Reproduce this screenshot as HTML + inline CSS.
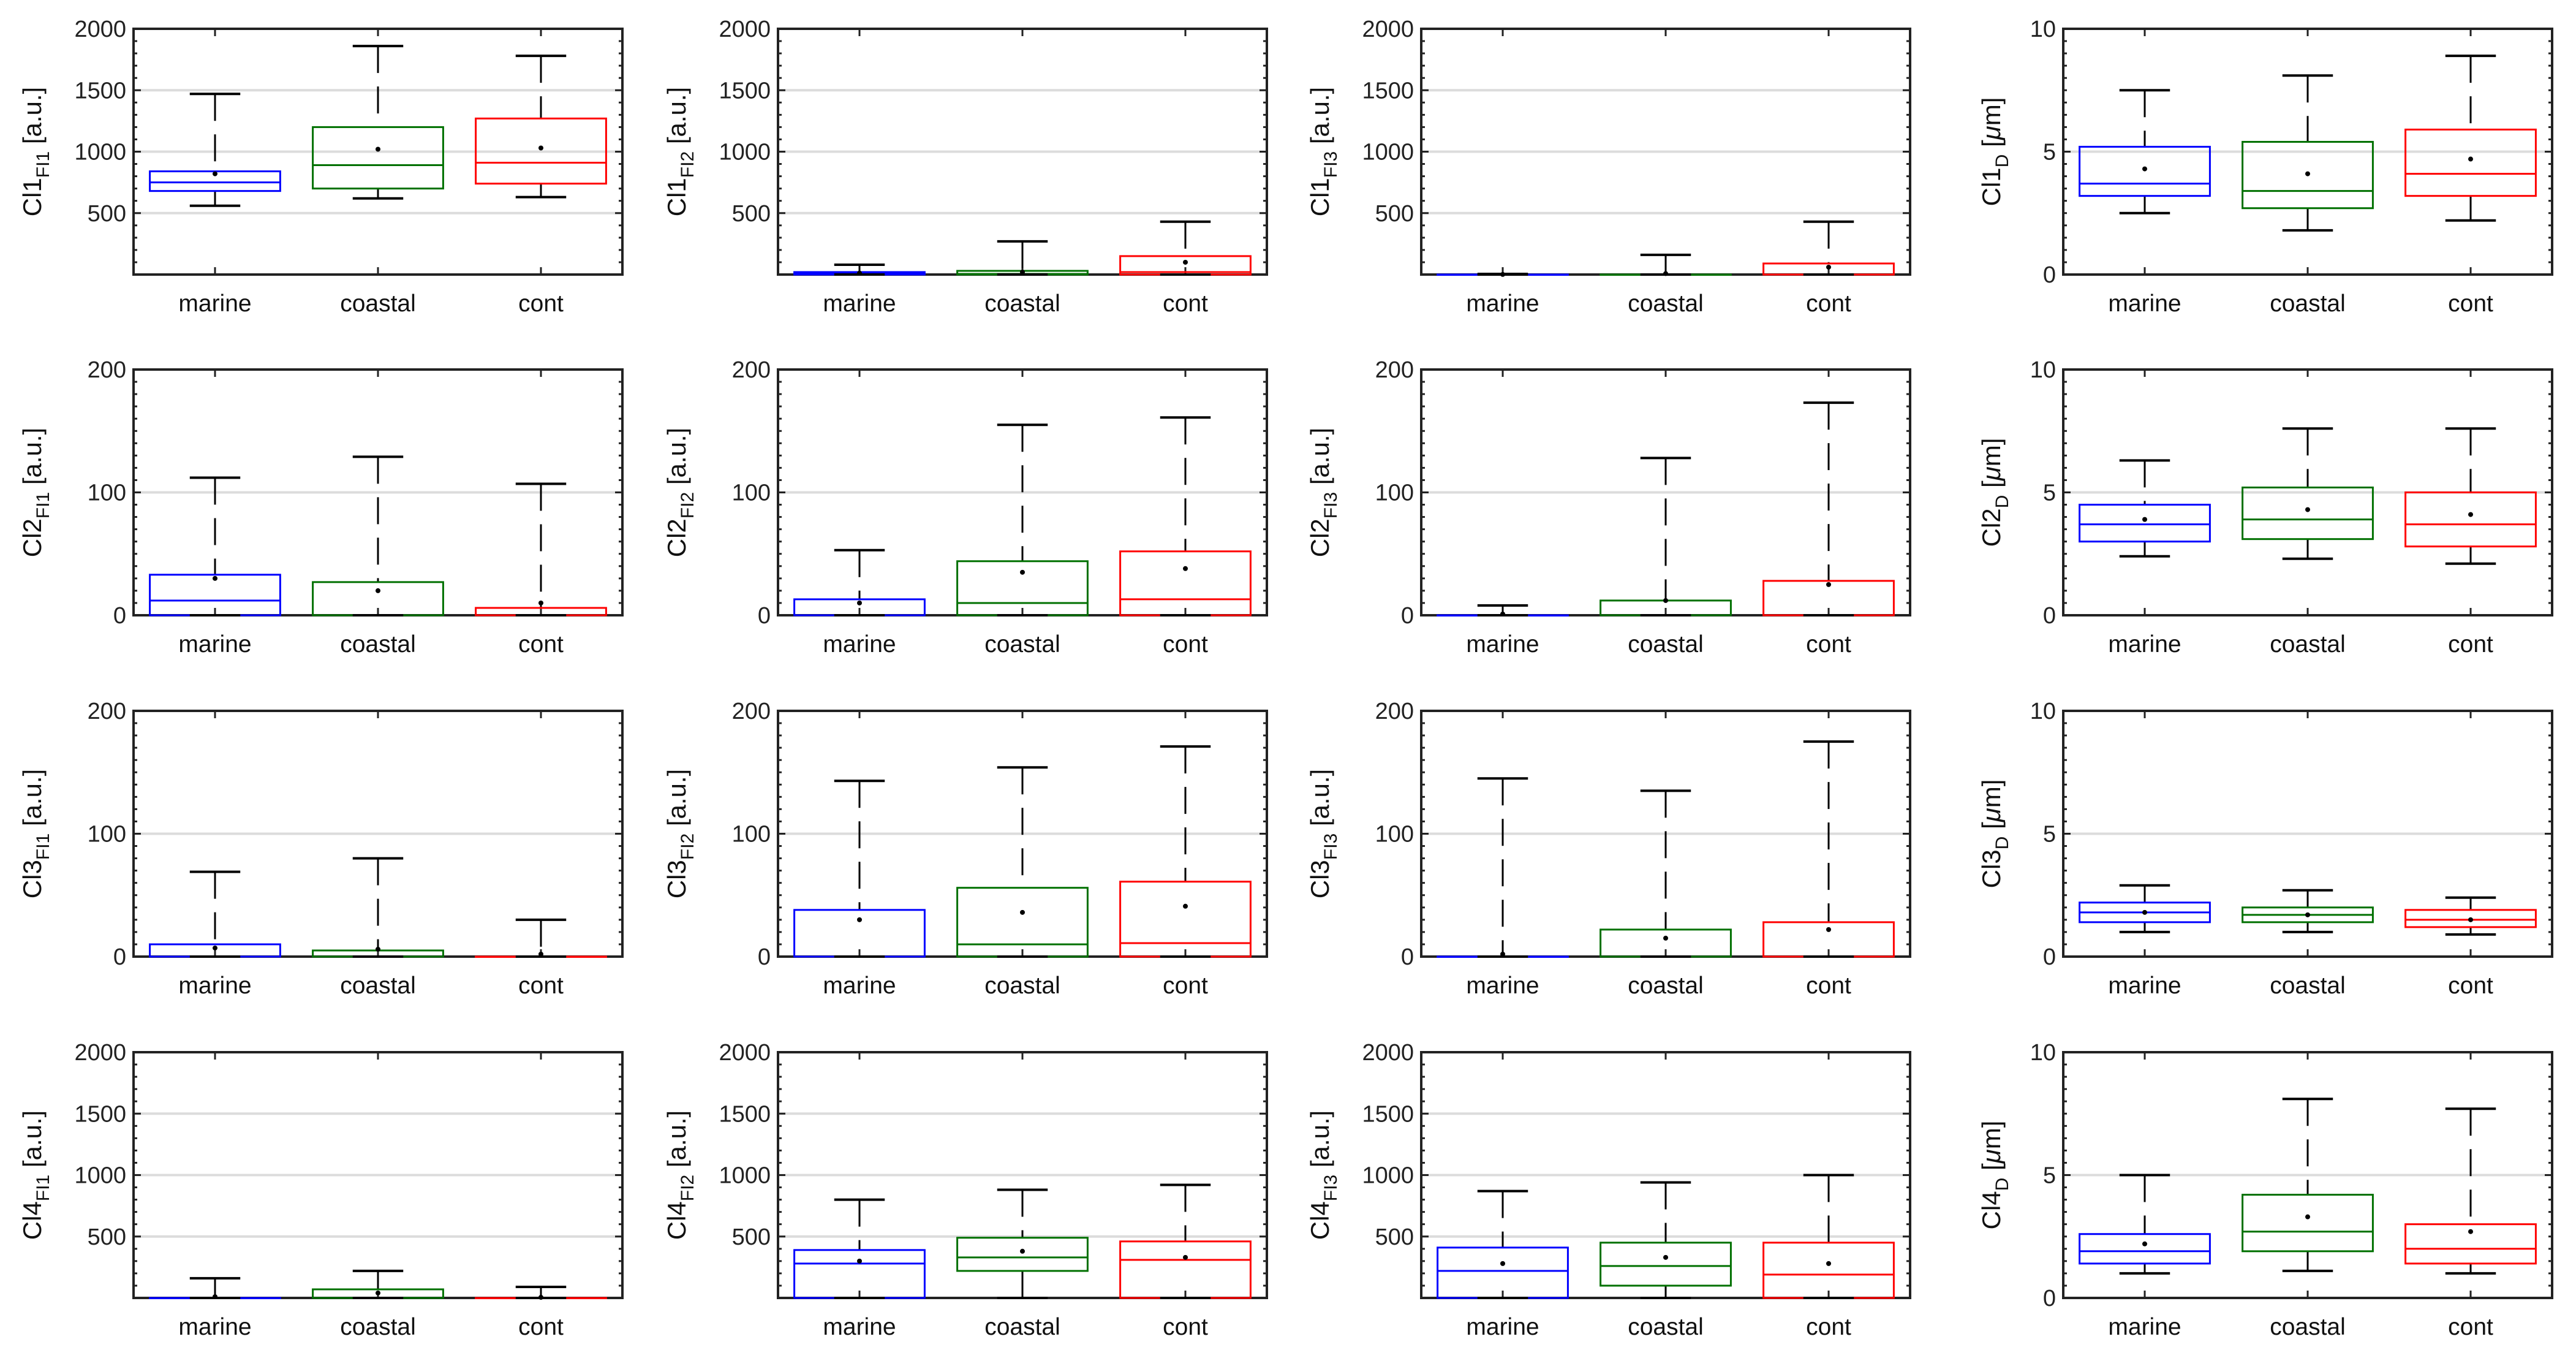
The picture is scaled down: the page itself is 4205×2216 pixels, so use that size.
<!DOCTYPE html>
<html><head><meta charset="utf-8"><style>
html,body{margin:0;padding:0;background:#fff;}
svg{display:block;font-family:"Liberation Sans",Arial,sans-serif;}
</style></head><body>
<svg id="chart" width="4205" height="2216" viewBox="0 0 4205 2216" xmlns="http://www.w3.org/2000/svg"></svg>
<script>
const categories = ["marine","coastal","cont"];
const colors = ["#0000ff","#007000","#ff0000"];
const panelNames = ["Cl1","Cl2","Cl3","Cl4"];
const panelSubs = ["FI1","FI2","FI3","D"];
// each entry: [upper whisker, Q3, median, Q1, lower whisker, mean] per category
const r1c1 = [[1470,840,750,680,560,820],[1860,1200,890,700,620,1020],[1780,1270,910,740,630,1030]];
const r1c2 = [[80,20,5,0,0,12],[270,30,5,0,0,20],[430,150,20,0,0,100]];
const r1c3 = [[5,0,0,0,0,1],[160,0,0,0,0,8],[430,90,0,0,0,60]];
const r1c4 = [[7.5,5.2,3.7,3.2,2.5,4.3],[8.1,5.4,3.4,2.7,1.8,4.1],[8.9,5.9,4.1,3.2,2.2,4.7]];
const r2c1 = [[112,33,12,0,0,30],[129,27,0,0,0,20],[107,6,0,0,0,10]];
const r2c2 = [[53,13,0,0,0,10],[155,44,10,0,0,35],[161,52,13,0,0,38]];
const r2c3 = [[8,0,0,0,0,1],[128,12,0,0,0,12],[173,28,0,0,0,25]];
const r2c4 = [[6.3,4.5,3.7,3.0,2.4,3.9],[7.6,5.2,3.9,3.1,2.3,4.3],[7.6,5.0,3.7,2.8,2.1,4.1]];
const r3c1 = [[69,10,0,0,0,7],[80,5,0,0,0,6],[30,0,0,0,0,2]];
const r3c2 = [[143,38,0,0,0,30],[154,56,10,0,0,36],[171,61,11,0,0,41]];
const r3c3 = [[145,0,0,0,0,2],[135,22,0,0,0,15],[175,28,0,0,0,22]];
const r3c4 = [[2.9,2.2,1.8,1.4,1.0,1.8],[2.7,2.0,1.7,1.4,1.0,1.7],[2.4,1.9,1.5,1.2,0.9,1.5]];
const r4c1 = [[160,0,0,0,0,10],[220,70,0,0,0,40],[90,0,0,0,0,5]];
const r4c2 = [[800,390,280,0,0,300],[880,490,330,220,0,380],[920,460,310,0,0,330]];
const r4c3 = [[870,410,220,0,0,280],[940,450,260,100,0,330],[1000,450,190,0,0,280]];
const r4c4 = [[5.0,2.6,1.9,1.4,1.0,2.2],[8.1,4.2,2.7,1.9,1.1,3.3],[7.7,3.0,2.0,1.4,1.0,2.7]];
const panelData = [[r1c1,r1c2,r1c3,r1c4],[r2c1,r2c2,r2c3,r2c4],[r3c1,r3c2,r3c3,r3c4],[r4c1,r4c2,r4c3,r4c4]];
const ticksBig = [500,1000,1500,2000];
const ticksSmall = [0,100,200];
const ticksD = [0,5,10];

const svg = document.getElementById('chart');
const NS = "http://www.w3.org/2000/svg";
function mk(tag, attrs, parent){
  const e = document.createElementNS(NS, tag);
  for (const k in attrs) e.setAttribute(k, attrs[k]);
  (parent||svg).appendChild(e);
  return e;
}
const lefts = [218,1270,2320,3368];
const tops = [47,603,1160,1717];
const W = 798, H = 401;

for (let r=0;r<4;r++){
  for (let c=0;c<4;c++){
    const L = lefts[c], T = tops[r], B = T+H, R = L+W;
    let ymax, ticks, minorStep;
    if (c===3){ ymax=10; ticks=ticksD; minorStep=0.5; }
    else if (r===0||r===3){ ymax=2000; ticks=ticksBig; minorStep=100; }
    else { ymax=200; ticks=ticksSmall; minorStep=10; }
    const y = v => B - v/ymax*H;
    const x = i => L + W*(2*i+1)/6;
    const g = mk('g',{});
    
    
    ticks.forEach(t=>{
      if (t>0 && t<ymax){
        const gl = mk('line',{x1:L,x2:R,y1:y(t),y2:y(t),stroke:'#dcdcdc','stroke-width':4},g);
        
        
      }
    });
    for (let v=minorStep; v<ymax-1e-9; v+=minorStep){
      const isMajor = ticks.some(t=>Math.abs(t-v)<1e-9);
      const len = isMajor?12:6;
      mk('line',{x1:L,x2:L+len,y1:y(v),y2:y(v),stroke:'#222','stroke-width':3},g);
      mk('line',{x1:R,x2:R-len,y1:y(v),y2:y(v),stroke:'#222','stroke-width':3},g);
    }
    for (let i=0;i<3;i++){
      mk('line',{x1:x(i),x2:x(i),y1:T,y2:T+12,stroke:'#222','stroke-width':3},g);
      mk('line',{x1:x(i),x2:x(i),y1:B,y2:B-12,stroke:'#222','stroke-width':3},g);
    }
    const fr = mk('rect',{x:L,y:T,width:W,height:H,fill:'none',stroke:'#222','stroke-width':4},g);
    
    
    ticks.forEach(t=>{
      const tl = mk('text',{x:L-12,y:y(t)+13,'text-anchor':'end','font-size':38,fill:'#222'},g);
      tl.textContent = String(t);
      
      
    });
    categories.forEach((cat,i)=>{
      const tl = mk('text',{x:x(i),y:B+60,'text-anchor':'middle','font-size':39,fill:'#111'},g);
      tl.textContent = cat;
      
      
    });
    const cx = c===3 ? L-117 : L-165, cy = T+H/2;
    const yt = mk('text',{x:cx+14,y:cy,'text-anchor':'middle','font-size':42,fill:'#111',transform:'rotate(-90 '+(cx+14)+' '+cy+')'},g);
    
    
    const t1 = mk('tspan',{},yt); t1.textContent = panelNames[r];
    const t2 = mk('tspan',{'font-size':30,dy:13},yt); t2.textContent = panelSubs[c];
    if (c===3){
      const t3 = mk('tspan',{dy:-13},yt); t3.textContent = ' [';
      const t4 = mk('tspan',{'font-style':'italic'},yt); t4.textContent = '\u03bc';
      const t5 = mk('tspan',{},yt); t5.textContent = 'm]';
    } else {
      const t3 = mk('tspan',{dy:-13},yt); t3.textContent = ' [a.u.]';
    }
    const data = panelData[r][c];
    const bw = W/3*0.8, cap = W/3*0.31;
    data.forEach((d,i)=>{
      const [up,q3,med,q1,lo,mean] = d;
      const bg = mk('g',{},g);
      
      
      const xc = x(i);
      mk('line',{x1:xc,x2:xc,y1:y(up),y2:y(q3),stroke:'#000','stroke-width':3,'stroke-dasharray':'44 22'},bg);
      mk('line',{x1:xc,x2:xc,y1:y(lo),y2:y(q1),stroke:'#000','stroke-width':3,'stroke-dasharray':'44 22'},bg);
      mk('rect',{x:xc-bw/2,y:y(q3),width:bw,height:Math.max(0.5,y(q1)-y(q3)),fill:'none',stroke:colors[i],'stroke-width':3},bg);
      mk('line',{x1:xc-bw/2,x2:xc+bw/2,y1:y(med),y2:y(med),stroke:colors[i],'stroke-width':3},bg);
      mk('line',{x1:xc-cap/2,x2:xc+cap/2,y1:y(up),y2:y(up),stroke:'#000','stroke-width':4},bg);
      mk('line',{x1:xc-cap/2,x2:xc+cap/2,y1:y(lo),y2:y(lo),stroke:'#000','stroke-width':4},bg);
      mk('circle',{cx:xc,cy:y(mean),r:4,fill:'#000'},bg);
    });
  }
}
</script>
</body></html>
